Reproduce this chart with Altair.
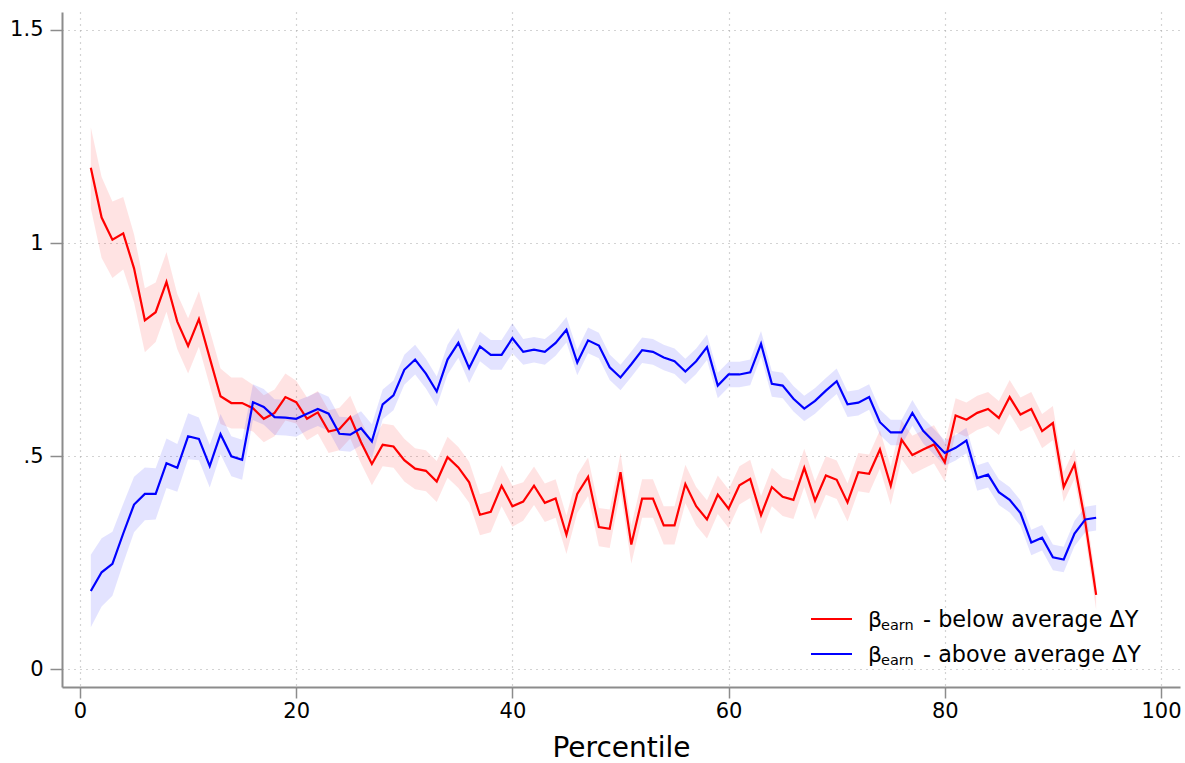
import altair as alt
import pandas as pd

# Percentiles of the earnings distribution
percentile = list(range(1, 95))

# Estimated coefficient, households with below-average income change
beta_below = [
    1.177, 1.060, 1.008, 1.023, 0.941, 0.819, 0.838, 0.909, 0.816, 0.759,
    0.822, 0.731, 0.641, 0.625, 0.625, 0.613, 0.588, 0.602, 0.639, 0.627,
    0.588, 0.603, 0.558, 0.564, 0.592, 0.533, 0.482, 0.527, 0.523, 0.491,
    0.471, 0.466, 0.441, 0.498, 0.474, 0.439, 0.363, 0.370, 0.431, 0.383,
    0.394, 0.431, 0.391, 0.401, 0.316, 0.412, 0.452, 0.334, 0.330, 0.463,
    0.293, 0.401, 0.401, 0.338, 0.338, 0.435, 0.383, 0.352, 0.410, 0.377,
    0.432, 0.447, 0.362, 0.428, 0.405, 0.398, 0.473, 0.396, 0.455, 0.445,
    0.392, 0.463, 0.459, 0.516, 0.431, 0.539, 0.503, 0.516, 0.528, 0.486,
    0.596, 0.586, 0.602, 0.611, 0.590, 0.639, 0.598, 0.611, 0.559, 0.578,
    0.428, 0.482, 0.345, 0.175,
]
# Half-width of the 95% confidence band around beta_below
ci_below = [
    0.095, 0.095, 0.090, 0.085, 0.080, 0.075, 0.070, 0.070, 0.065, 0.065,
    0.065, 0.065, 0.065, 0.060, 0.060, 0.055, 0.055, 0.055, 0.055, 0.050,
    0.050, 0.050, 0.050, 0.050, 0.050, 0.050, 0.050, 0.050, 0.050, 0.050,
    0.048, 0.048, 0.048, 0.048, 0.048, 0.048, 0.048, 0.048, 0.048, 0.048,
    0.045, 0.045, 0.045, 0.045, 0.045, 0.045, 0.045, 0.045, 0.045, 0.045,
    0.045, 0.045, 0.045, 0.045, 0.045, 0.045, 0.045, 0.045, 0.045, 0.045,
    0.045, 0.045, 0.045, 0.045, 0.045, 0.045, 0.045, 0.045, 0.045, 0.045,
    0.045, 0.045, 0.045, 0.045, 0.045, 0.045, 0.045, 0.045, 0.045, 0.045,
    0.040, 0.040, 0.040, 0.040, 0.040, 0.040, 0.040, 0.040, 0.040, 0.040,
    0.035, 0.035, 0.035, 0.035,
]

# Estimated coefficient, households with above-average income change
beta_above = [
    0.184, 0.228, 0.248, 0.319, 0.387, 0.412, 0.412, 0.484, 0.473, 0.547,
    0.541, 0.477, 0.552, 0.500, 0.492, 0.627, 0.616, 0.592, 0.591, 0.588,
    0.600, 0.611, 0.600, 0.553, 0.551, 0.566, 0.535, 0.622, 0.643, 0.703,
    0.727, 0.694, 0.652, 0.727, 0.766, 0.707, 0.758, 0.738, 0.738, 0.777,
    0.745, 0.750, 0.745, 0.766, 0.797, 0.720, 0.772, 0.760, 0.709, 0.685,
    0.716, 0.749, 0.745, 0.732, 0.723, 0.699, 0.723, 0.756, 0.666, 0.692,
    0.692, 0.697, 0.764, 0.670, 0.666, 0.635, 0.612, 0.630, 0.654, 0.676,
    0.622, 0.626, 0.639, 0.580, 0.556, 0.556, 0.602, 0.560, 0.534, 0.508,
    0.520, 0.537, 0.449, 0.457, 0.416, 0.398, 0.367, 0.298, 0.309, 0.263,
    0.258, 0.319, 0.352, 0.356,
]
# Half-width of the 95% confidence band around beta_above
ci_above = [
    0.085, 0.080, 0.075, 0.070, 0.065, 0.062, 0.060, 0.058, 0.056, 0.054,
    0.050, 0.050, 0.047, 0.047, 0.047, 0.042, 0.042, 0.042, 0.042, 0.042,
    0.040, 0.040, 0.040, 0.040, 0.040, 0.040, 0.040, 0.035, 0.035, 0.035,
    0.035, 0.035, 0.035, 0.035, 0.035, 0.035, 0.035, 0.035, 0.035, 0.035,
    0.030, 0.030, 0.030, 0.030, 0.030, 0.030, 0.030, 0.030, 0.030, 0.030,
    0.030, 0.030, 0.030, 0.030, 0.030, 0.030, 0.030, 0.030, 0.030, 0.030,
    0.030, 0.030, 0.030, 0.030, 0.030, 0.030, 0.030, 0.030, 0.030, 0.030,
    0.030, 0.030, 0.030, 0.030, 0.030, 0.030, 0.030, 0.030, 0.030, 0.030,
    0.030, 0.030, 0.030, 0.030, 0.030, 0.030, 0.030, 0.030, 0.030, 0.030,
    0.030, 0.030, 0.030, 0.030,
]

series_names = ["below", "above"]
series_colors = ["#ff0000", "#0000ff"]
legend_text = ["- below average \u0394Y", "- above average \u0394Y"]

x_ticks = [0, 20, 40, 60, 80, 100]
y_ticks = [0, 0.5, 1, 1.5]
y_tick_labels = ["0", ".5", "1", "1.5"]

rows = []
for name, vals, ci in [("below", beta_below, ci_below), ("above", beta_above, ci_above)]:
    for p, v, h in zip(percentile, vals, ci):
        rows.append({"series": name, "pct": p, "value": v, "lo": v - h, "hi": v + h})
df = pd.DataFrame(rows)

FONT = "DejaVu Sans"
W, H = 1118, 675

label_expr = " : ".join(
    f"datum.value == {v} ? '{t}'" for v, t in zip(y_ticks, y_tick_labels)
) + " : ''"

x_enc = alt.X(
    "pct:Q",
    scale=alt.Scale(domain=[-1.665, 101.758], nice=False, zero=False),
    axis=alt.Axis(
        values=x_ticks, title="Percentile", format="d",
        titleFontSize=28, titleFontWeight="normal", titleColor="black", titleFont=FONT,
        titleBaseline="alphabetic", titleY=69,
        labelFontSize=21, labelColor="black", labelFont=FONT, labelPadding=2,
        domainColor="#8c8c8c", domainWidth=2,
        tickColor="#8c8c8c", tickWidth=1.5, tickSize=11,
        grid=True, gridColor="#a8a8a8", gridDash=[1, 5], gridWidth=1.2,
    ),
)
y_scale = alt.Scale(domain=[-0.04105, 1.5422], nice=False, zero=False)
y_axis = alt.Axis(
    values=y_ticks, title=None, labelExpr=label_expr,
    labelFontSize=21, labelColor="black", labelFont=FONT, labelPadding=7,
    domainColor="#8c8c8c", domainWidth=2,
    tickColor="#8c8c8c", tickWidth=1.5, tickSize=12,
    grid=True, gridColor="#a8a8a8", gridDash=[1, 5], gridWidth=1.2,
)
color_enc = alt.Color(
    "series:N", scale=alt.Scale(domain=series_names, range=series_colors), legend=None
)

base = alt.Chart(df)

bands = base.mark_area(opacity=0.11).encode(
    x=x_enc,
    y=alt.Y("lo:Q", scale=y_scale, axis=y_axis),
    y2="hi:Q",
    color=color_enc,
    detail="series:N",
)

lines = base.mark_line(strokeWidth=2.2).encode(
    x=x_enc,
    y=alt.Y("value:Q", scale=y_scale, axis=y_axis),
    color=color_enc,
    order=alt.Order("pct:Q"),
)

# Legend drawn by hand so that "earn" can sit as a subscript of beta
one = pd.DataFrame({"k": [0]})
legend_layers = []
for i, (col, txt) in enumerate(zip(series_colors, legend_text)):
    dy = 35 * i
    legend_layers.append(
        alt.Chart(one).mark_rule(color=col, strokeWidth=2.2).encode(
            x=alt.value(749), x2=alt.value(790), y=alt.value(607 + dy)
        )
    )
    legend_layers.append(
        alt.Chart(one).mark_text(
            align="left", baseline="alphabetic", font=FONT, fontSize=22, color="black"
        ).encode(x=alt.value(806), y=alt.value(615 + dy), text=alt.value("\u03b2"))
    )
    legend_layers.append(
        alt.Chart(one).mark_text(
            align="left", baseline="alphabetic", font=FONT, fontSize=14.5, color="black"
        ).encode(x=alt.value(819), y=alt.value(618 + dy), text=alt.value("earn"))
    )
    legend_layers.append(
        alt.Chart(one).mark_text(
            align="left", baseline="alphabetic", font=FONT, fontSize=22.3, color="black"
        ).encode(x=alt.value(861), y=alt.value(615 + dy), text=alt.value(txt))
    )

chart = alt.layer(bands, lines, *legend_layers).properties(
    width=W,
    height=H,
    padding={"left": 62, "top": 12, "right": 5, "bottom": 76},
    autosize=alt.AutoSizeParams(type="none"),
    background="white",
).configure_view(stroke=None)

chart.save("out.html", embed_options={"renderer": "svg", "actions": False})
